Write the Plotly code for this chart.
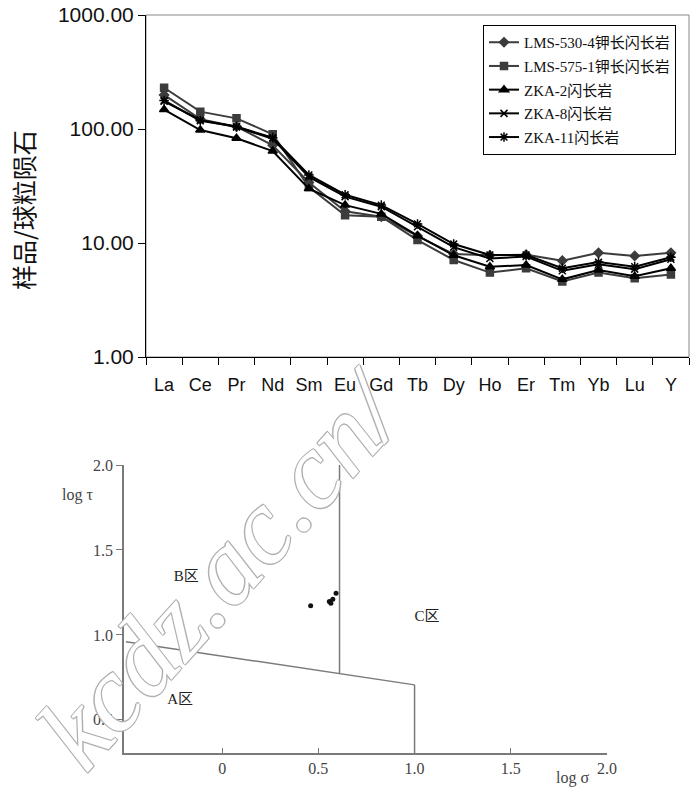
import plotly.graph_objects as go

W, H = 692, 798

# ---------------- top chart data (chondrite-normalised REE) ----------------
elements = ["La", "Ce", "Pr", "Nd", "Sm", "Eu", "Gd", "Tb", "Dy", "Ho", "Er", "Tm", "Yb", "Lu", "Y"]
lms_530_4 = [199, 122, 105, 72, 34, 19, 17, 11.5, 8.0, 7.8, 7.9, 7.0, 8.2, 7.7, 8.2]
lms_575_1 = [230, 142, 124, 90, 31, 17.5, 17, 10.6, 7.1, 5.5, 6.0, 4.6, 5.5, 4.9, 5.3]
zka_2 = [148, 98, 83, 64, 30, 21.5, 18, 11.6, 7.8, 6.2, 6.4, 4.8, 5.8, 5.1, 6.0]
zka_8 = [175, 120, 104, 82, 38, 25.5, 20.8, 13.9, 9.2, 7.3, 7.6, 5.7, 6.5, 5.9, 7.2]
zka_11 = [178, 118, 105, 84, 39.5, 26.5, 21.5, 14.7, 9.8, 7.85, 7.85, 6.0, 6.8, 6.2, 7.5]
series_names = ["LMS-530-4钾长闪长岩", "LMS-575-1钾长闪长岩", "ZKA-2闪长岩", "ZKA-8闪长岩", "ZKA-11闪长岩"]
y_tickvals = [1, 10, 100, 1000]
y_ticktext = ["1.00", "10.00", "100.00", "1000.00"]

# ---------------- bottom chart data (log sigma - log tau) ----------------
pts_sigma = [0.46, 0.557, 0.565, 0.575, 0.592]
pts_tau = [1.172, 1.196, 1.186, 1.21, 1.245]
bound_ab_sigma = [-0.5, 1.0]
bound_ab_tau = [0.96, 0.706]
bound_bc_sigma = [0.61, 0.61]
bound_bc_tau = [0.772, 2.0]
bound_c_sigma = [1.0, 1.0]
tau_min = 0.305
bound_c_tau = [0.706, tau_min]
x2_tickvals = [0, 0.5, 1.0, 1.5, 2.0]
x2_ticktext = ["0", "0.5", "1.0", "1.5", "2.0"]
y2_tickvals = [0.5, 1.0, 1.5, 2.0]
y2_ticktext = ["0.5", "1.0", "1.5", "2.0"]
zone_labels = ["B区", "A区", "C区"]
zone_sigma = [-0.187, -0.218, 1.065]
zone_tau = [1.341, 0.618, 1.106]


def px_x(p):
    return p / W


def px_y(p):
    return 1 - p / H


fig = go.Figure()

series = [lms_530_4, lms_575_1, zka_2, zka_8, zka_11]
colors = ["#3c3c3c", "#3c3c3c", "#000000", "#000000", "#000000"]
symbols = ["diamond", "square", "triangle-up", "x-thin-open", "asterisk-open"]
msizes = [7, 7, 8, 7, 8]
for i, (name, vals, col, sym, ms) in enumerate(zip(series_names, series, colors, symbols, msizes)):
    fig.add_trace(go.Scatter(
        x=elements, y=vals, name=name, mode="lines+markers", legendgroup="g%d" % i,
        line=dict(color=col, width=2),
        marker=dict(symbol=sym, size=ms, color=col, line=dict(color=col, width=1.5)),
        xaxis="x", yaxis="y",
    ))

grey = "#7a7a7a"
for xs, ys in [(bound_ab_sigma, bound_ab_tau), (bound_bc_sigma, bound_bc_tau), (bound_c_sigma, bound_c_tau)]:
    fig.add_trace(go.Scatter(x=xs, y=ys, mode="lines", line=dict(color=grey, width=1.5),
                             showlegend=False, xaxis="x2", yaxis="y2", hoverinfo="skip"))

fig.add_trace(go.Scatter(x=pts_sigma, y=pts_tau, mode="markers",
                         marker=dict(color="#111111", size=5), showlegend=False,
                         xaxis="x2", yaxis="y2"))

fig.add_trace(go.Scatter(x=zone_sigma, y=zone_tau, mode="text", text=zone_labels,
                         textfont=dict(family="Liberation Serif, Noto Sans CJK SC", size=15, color="#222222"),
                         showlegend=False, xaxis="x2", yaxis="y2", hoverinfo="skip"))

top_x_dom = [px_x(146), px_x(689)]
top_y_dom = [px_y(357), px_y(15)]
bot_x_dom = [px_x(124), px_x(607)]
bot_y_dom = [px_y(753), px_y(465)]

serif = "Liberation Serif, Noto Sans CJK SC, serif"

fig.update_layout(
    width=W, height=H,
    margin=dict(l=0, r=0, t=0, b=0, autoexpand=False),
    paper_bgcolor="white", plot_bgcolor="white",
    showlegend=True,
    legend=dict(
        x=px_x(483), y=px_y(25), xanchor="left", yanchor="top",
        bordercolor="black", borderwidth=1, bgcolor="white",
        font=dict(family=serif, size=15, color="#111111"),
        tracegroupgap=1.2, itemwidth=30,
    ),
    xaxis=dict(
        domain=top_x_dom, anchor="y", type="category", categoryorder="array",
        categoryarray=elements, range=[-0.5, 14.5], tickson="boundaries",
        ticks="outside", ticklen=7, tickcolor="black", showline=True, linecolor="black",
        linewidth=1, showgrid=False, zeroline=False, automargin=False, tickangle=0,
        tickfont=dict(family="Liberation Sans, Arial", size=18, color="#111111"),
        ticklabelstandoff=11,
    ),
    yaxis=dict(
        domain=top_y_dom, anchor="x", type="log", range=[0, 3],
        tickvals=y_tickvals, ticktext=y_ticktext, automargin=False,
        ticks="outside", ticklen=7, tickcolor="black", showline=True, linecolor="black",
        linewidth=1, showgrid=False, zeroline=False,
        tickfont=dict(family="Liberation Sans, Arial", size=21, color="#111111"),
    ),
    xaxis2=dict(
        domain=bot_x_dom, anchor="y2", range=[-0.51, 2.0],
        tickvals=x2_tickvals, ticktext=x2_ticktext, automargin=False, tickangle=0,
        ticks="inside", ticklen=5, tickcolor=grey, showline=True, linecolor=grey,
        linewidth=1.5, showgrid=False, zeroline=False,
        tickfont=dict(family=serif, size=16, color="#444444"),
    ),
    yaxis2=dict(
        domain=bot_y_dom, anchor="x2", range=[tau_min, 2.0],
        tickvals=y2_tickvals, ticktext=y2_ticktext, automargin=False,
        ticks="outside", ticklen=6, tickcolor=grey, showline=True, linecolor=grey,
        linewidth=1.5, showgrid=False, zeroline=False,
        tickfont=dict(family=serif, size=16, color="#444444"),
    ),
    shapes=[
        dict(type="rect", xref="paper", yref="paper",
             x0=top_x_dom[0], x1=top_x_dom[1], y0=top_y_dom[0], y1=top_y_dom[1],
             line=dict(color="#888888", width=1), layer="below"),
    ],
    annotations=[
        dict(text="样品/球粒陨石", xref="paper", yref="paper", x=px_x(23), y=px_y(210),
             xanchor="center", yanchor="middle", textangle=-90, showarrow=False,
             font=dict(family="Noto Sans CJK SC", size=25, color="#111111")),
        dict(text="log τ", xref="paper", yref="paper", x=px_x(77), y=px_y(495),
             xanchor="center", yanchor="middle", showarrow=False,
             font=dict(family=serif, size=16, color="#444444")),
        dict(text="log σ", xref="paper", yref="paper", x=px_x(572), y=px_y(778),
             xanchor="center", yanchor="middle", showarrow=False,
             font=dict(family=serif, size=16, color="#444444")),
        dict(text="kcdz.ac.cn/", xref="paper", yref="paper", x=px_x(222), y=px_y(568),
             xanchor="center", yanchor="middle", textangle=-48, showarrow=False,
             font=dict(family="Liberation Serif", style="italic", size=108, color="white",
                       shadow="1px 1px 0 #b0b0b0, -1px -1px 0 #b0b0b0, 1px -1px 0 #b0b0b0, -1px 1px 0 #b0b0b0")),
    ],
)

fig.write_html("out.html", config={"displayModeBar": False},
               post_script="document.body.style.margin='0px';")
